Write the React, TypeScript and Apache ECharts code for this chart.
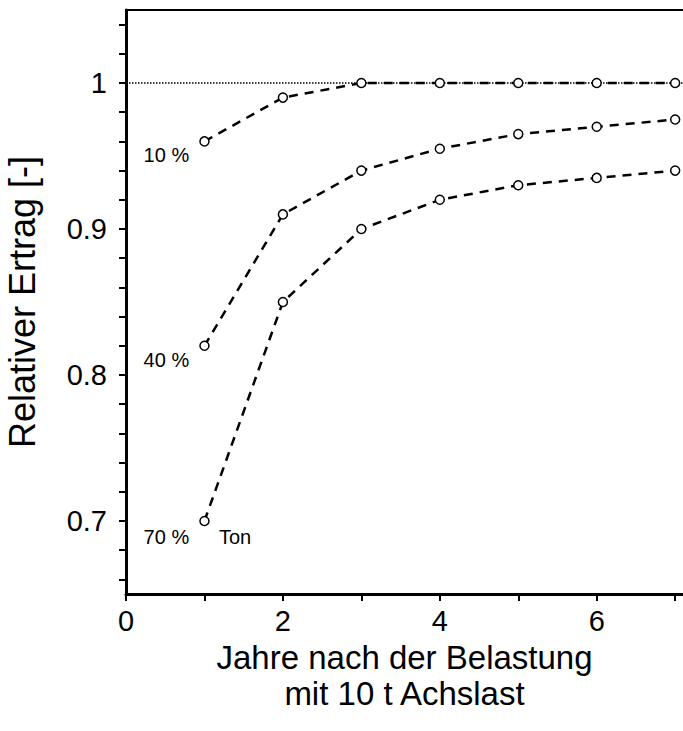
import React, { useEffect, useRef } from "react";
import * as echarts from "echarts";

const years = [1, 2, 3, 4, 5, 6, 7];
const series10 = [0.96, 0.99, 1.0, 1.0, 1.0, 1.0, 1.0];
const series40 = [0.82, 0.91, 0.94, 0.955, 0.965, 0.97, 0.975];
const series70 = [0.7, 0.85, 0.9, 0.92, 0.93, 0.935, 0.94];
const seriesNames = ["10 %", "40 %", "70 %"];
const soilLabel = "Ton";
const referenceValue = 1.0;
const xTickValues = [0, 1, 2, 3, 4, 5, 6, 7];
const xLabelValues = [0, 2, 4, 6];
const yTickValues = [0.66, 0.68, 0.7, 0.72, 0.74, 0.76, 0.78, 0.8, 0.82, 0.84, 0.86, 0.88, 0.9, 0.92, 0.94, 0.96, 0.98, 1.0, 1.02, 1.04];
const yLabelValues = [0.7, 0.8, 0.9, 1.0];

const FONT = "'Liberation Sans', Arial, Helvetica, sans-serif";

export default function App() {
  const ref = useRef<HTMLDivElement>(null);
  useEffect(() => {
    if (!ref.current) return;
    const chart = echarts.init(ref.current, null, { renderer: "svg" });
    const mk = (vals: number[], name: string, offsetY: number, extra?: any) => ({
      type: "line",
      name,
      data: vals.map((v, i) => {
        const item: any = { value: [years[i], v] };
        if (i === 0) {
          item.label = {
            show: true,
            position: "left",
            distance: 10,
            offset: [0, offsetY],
            formatter: name,
            color: "#000",
            fontSize: 20,
            fontFamily: FONT,
          };
        }
        return item;
      }),
      showSymbol: true,
      symbol: "circle",
      symbolSize: 9,
      itemStyle: { color: "#fff", borderColor: "#000", borderWidth: 1.5 },
      lineStyle: { color: "#000", width: 2.5, type: [9, 7] },
      z: 3,
      ...extra,
    });
    chart.setOption({
      animation: false,
      textStyle: { fontFamily: FONT },
      grid: { left: 126, top: 10, right: 0, bottom: 137, containLabel: false, outerBoundsMode: "none" },
      xAxis: [
        {
          type: "value",
          min: 0,
          max: 7.1,
          name: "Jahre nach der Belastung\nmit 10 t Achslast",
          nameLocation: "middle",
          nameGap: 44,
          nameTextStyle: { fontSize: 33, color: "#000", lineHeight: 36, fontFamily: FONT, verticalAlign: "top" },
          axisLine: { show: true, lineStyle: { color: "#000", width: 3 } },
          axisTick: { show: true, customValues: xTickValues, length: 7, lineStyle: { color: "#000", width: 2 } },
          axisLabel: { customValues: xLabelValues, margin: 12, fontSize: 29, color: "#000", fontFamily: FONT },
          splitLine: { show: false },
        },
        {
          type: "value",
          position: "top",
          min: 0,
          max: 7.1,
          axisLine: { show: true, lineStyle: { color: "#000", width: 2 } },
          axisTick: { show: false },
          axisLabel: { show: false },
          splitLine: { show: false },
        },
      ],
      yAxis: {
        type: "value",
        min: 0.65,
        max: 1.05,
        name: "Relativer Ertrag [-]",
        nameLocation: "middle",
        nameGap: 86,
        nameTextStyle: { fontSize: 36, color: "#000", fontFamily: FONT },
        axisLine: { show: true, lineStyle: { color: "#000", width: 3 } },
        axisTick: { show: true, customValues: yTickValues, length: 7, lineStyle: { color: "#000", width: 2 } },
        axisLabel: {
          customValues: yLabelValues,
          margin: 19,
          fontSize: 29,
          color: "#000",
          fontFamily: FONT,
          formatter: (v: number) => String(Math.round(v * 10) / 10),
        },
        splitLine: { show: false },
      },
      series: [
        mk(series10, seriesNames[0], 14, {
          markLine: {
            silent: true,
            symbol: "none",
            label: { show: false },
            lineStyle: { color: "#000", width: 1.5, type: "dotted" },
            data: [{ yAxis: referenceValue }],
            z: 1,
          },
        }),
        mk(series40, seriesNames[1], 14),
        mk(series70, seriesNames[2], 16, {
          markPoint: {
            symbol: "circle",
            symbolSize: 1,
            itemStyle: { color: "rgba(0,0,0,0)" },
            label: {
              show: true,
              position: "right",
              distance: 14,
              offset: [0, 16],
              formatter: soilLabel,
              color: "#000",
              fontSize: 20,
              fontFamily: FONT,
            },
            data: [{ coord: [years[0], series70[0]] }],
          },
        }),
      ],
    });
    return () => chart.dispose();
  }, []);
  return <div ref={ref} style={{ width: 683, height: 731, position: "absolute", left: 0, top: 0 }} />;
}
